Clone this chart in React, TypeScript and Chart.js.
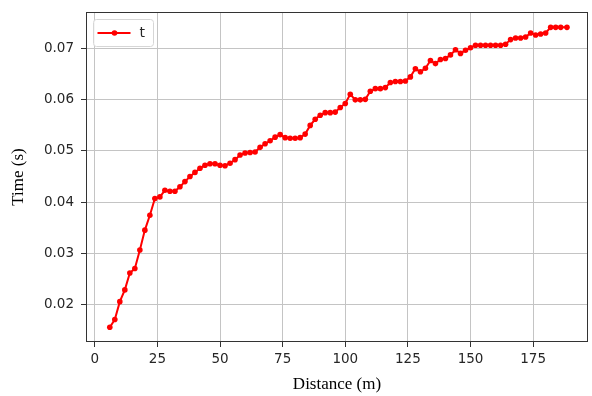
import React, { useEffect, useRef } from "react";
import { Chart, registerables } from "chart.js";

Chart.register(...registerables);

const distance: number[] = [
  6, 8, 10, 12, 14, 16, 18, 20, 22, 24, 26, 28, 30, 32, 34, 36, 38, 40, 42, 44,
  46, 48, 50, 52, 54, 56, 58, 60, 62, 64, 66, 68, 70, 72, 74, 76, 78, 80, 82, 84,
  86, 88, 90, 92, 94, 96, 98, 100, 102, 104, 106, 108, 110, 112, 114, 116, 118, 120, 122, 124,
  126, 128, 130, 132, 134, 136, 138, 140, 142, 144, 146, 148, 150, 152, 154, 156, 158, 160, 162, 164,
  166, 168, 170, 172, 174, 176, 178, 180, 182, 184, 186, 188.5,
];

const timeS: number[] = [
  0.0155, 0.017, 0.0205, 0.0228, 0.0261, 0.027, 0.0306, 0.0345, 0.0374, 0.0407,
  0.041, 0.0423, 0.0421, 0.0421, 0.043, 0.044, 0.045, 0.0458, 0.0466, 0.0472,
  0.0475, 0.0475, 0.0472, 0.0471, 0.0476, 0.0483, 0.0492, 0.0496, 0.0497, 0.0498,
  0.0507, 0.0514, 0.052, 0.0527, 0.0532, 0.0526, 0.0525, 0.0525, 0.0526, 0.0533,
  0.055, 0.0562, 0.057, 0.0575, 0.0575, 0.0576, 0.0585, 0.0593, 0.0611, 0.06,
  0.06, 0.0601, 0.0617, 0.0622, 0.0622, 0.0624, 0.0634, 0.0636, 0.0636, 0.0637,
  0.0645, 0.0661, 0.0655, 0.0662, 0.0677, 0.0671, 0.0679, 0.0681, 0.0688, 0.0698,
  0.0691, 0.0697, 0.0702, 0.0707, 0.0707, 0.0707, 0.0707, 0.0707, 0.0707, 0.0709,
  0.0718, 0.0721, 0.0721, 0.0723, 0.0731, 0.0727, 0.0729, 0.0731, 0.0742, 0.0742,
  0.0742, 0.0742,
];

const xTicks: number[] = [0, 25, 50, 75, 100, 125, 150, 175];
const yTicks: number[] = [0.02, 0.03, 0.04, 0.05, 0.06, 0.07];
const seriesLabel = "t";
const xTitle = "Distance (m)";
const yTitle = "Time (s)";

const RED = "#ff0000";

const framePlugin = {
  id: "frameAndLegend",
  afterDraw(chart: any) {
    const { ctx, chartArea } = chart;
    const { left, top, right, bottom } = chartArea;
    ctx.save();
    ctx.strokeStyle = "#333333";
    ctx.lineWidth = 1;
    ctx.strokeRect(left + 0.5, top + 0.5, right - left - 1, bottom - top - 1);

    // legend box
    const bx = left + 7.5;
    const by = top + 7.5;
    const bw = 60;
    const bh = 27;
    const r = 3;
    ctx.beginPath();
    ctx.moveTo(bx + r, by);
    ctx.lineTo(bx + bw - r, by);
    ctx.quadraticCurveTo(bx + bw, by, bx + bw, by + r);
    ctx.lineTo(bx + bw, by + bh - r);
    ctx.quadraticCurveTo(bx + bw, by + bh, bx + bw - r, by + bh);
    ctx.lineTo(bx + r, by + bh);
    ctx.quadraticCurveTo(bx, by + bh, bx, by + bh - r);
    ctx.lineTo(bx, by + r);
    ctx.quadraticCurveTo(bx, by, bx + r, by);
    ctx.closePath();
    ctx.fillStyle = "rgba(255,255,255,0.85)";
    ctx.fill();
    ctx.strokeStyle = "#d6d6d6";
    ctx.stroke();

    const ly = by + bh / 2;
    ctx.strokeStyle = RED;
    ctx.lineWidth = 2;
    ctx.beginPath();
    ctx.moveTo(bx + 4, ly);
    ctx.lineTo(bx + 37, ly);
    ctx.stroke();
    ctx.fillStyle = RED;
    ctx.beginPath();
    ctx.arc(bx + 21, ly, 2.8, 0, Math.PI * 2);
    ctx.fill();

    ctx.fillStyle = "#262626";
    ctx.font = "14px 'DejaVu Sans'";
    ctx.textBaseline = "middle";
    ctx.textAlign = "left";
    ctx.fillText(seriesLabel, bx + 46, ly);
    ctx.restore();
  },
};

export default function App() {
  const canvasRef = useRef<HTMLCanvasElement | null>(null);

  useEffect(() => {
    const canvas = canvasRef.current;
    if (!canvas) return;
    const points = distance.map((d, i) => ({ x: d, y: timeS[i] }));
    const chart = new Chart(canvas, {
      type: "line",
      data: {
        datasets: [
          {
            label: seriesLabel,
            data: points,
            borderColor: RED,
            backgroundColor: RED,
            borderWidth: 2,
            pointRadius: 2.8,
            pointBorderWidth: 0,
            pointBackgroundColor: RED,
            tension: 0,
            fill: false,
          },
        ],
      },
      options: {
        animation: false,
        responsive: false,
        devicePixelRatio: 1,
        layout: { padding: { top: 12, right: 1, left: 0, bottom: 0 } },
        plugins: {
          legend: { display: false },
          tooltip: { enabled: false },
        },
        scales: {
          x: {
            type: "linear",
            min: -3.5,
            max: 196.9,
            afterBuildTicks: (s: any) => {
              s.ticks = xTicks.map((v) => ({ value: v }));
            },
            afterFit: (s: any) => {
              s.height = 54;
              s.paddingLeft = 0;
              s.paddingRight = 0;
            },
            border: { display: false },
            grid: {
              color: "#c4c4c4",
              lineWidth: 1,
              tickColor: "#333333",
              tickLength: 5,
            },
            ticks: {
              color: "#262626",
              font: { family: "'DejaVu Sans'", size: 13.5 },
              padding: 4,
              maxRotation: 0,
              callback: (v: any) => String(v),
            },
            title: {
              display: true,
              text: xTitle,
              color: "#000000",
              font: { family: "'Liberation Serif'", size: 17 },
              padding: { top: 0, bottom: 1 },
            },
          },
          y: {
            type: "linear",
            min: 0.0126,
            max: 0.0772,
            afterBuildTicks: (s: any) => {
              s.ticks = yTicks.map((v) => ({ value: v }));
            },
            afterFit: (s: any) => {
              s.width = 86;
              s.paddingTop = 0;
              s.paddingBottom = 0;
            },
            border: { display: false },
            grid: {
              color: "#c4c4c4",
              lineWidth: 1,
              tickColor: "#333333",
              tickLength: 5,
            },
            ticks: {
              color: "#262626",
              font: { family: "'DejaVu Sans'", size: 13.5 },
              padding: 7,
              callback: (v: any) => Number(v).toFixed(2),
            },
            title: {
              display: true,
              text: yTitle,
              color: "#000000",
              font: { family: "'Liberation Serif'", size: 17 },
              padding: { top: 8, bottom: 0 },
            },
          },
        },
      },
      plugins: [framePlugin],
    });
    return () => chart.destroy();
  }, []);

  return (
    <div style={{ position: "fixed", left: 0, top: 0, width: 592, height: 396, background: "#ffffff" }}>
      <canvas ref={canvasRef} width={592} height={396} />
    </div>
  );
}
